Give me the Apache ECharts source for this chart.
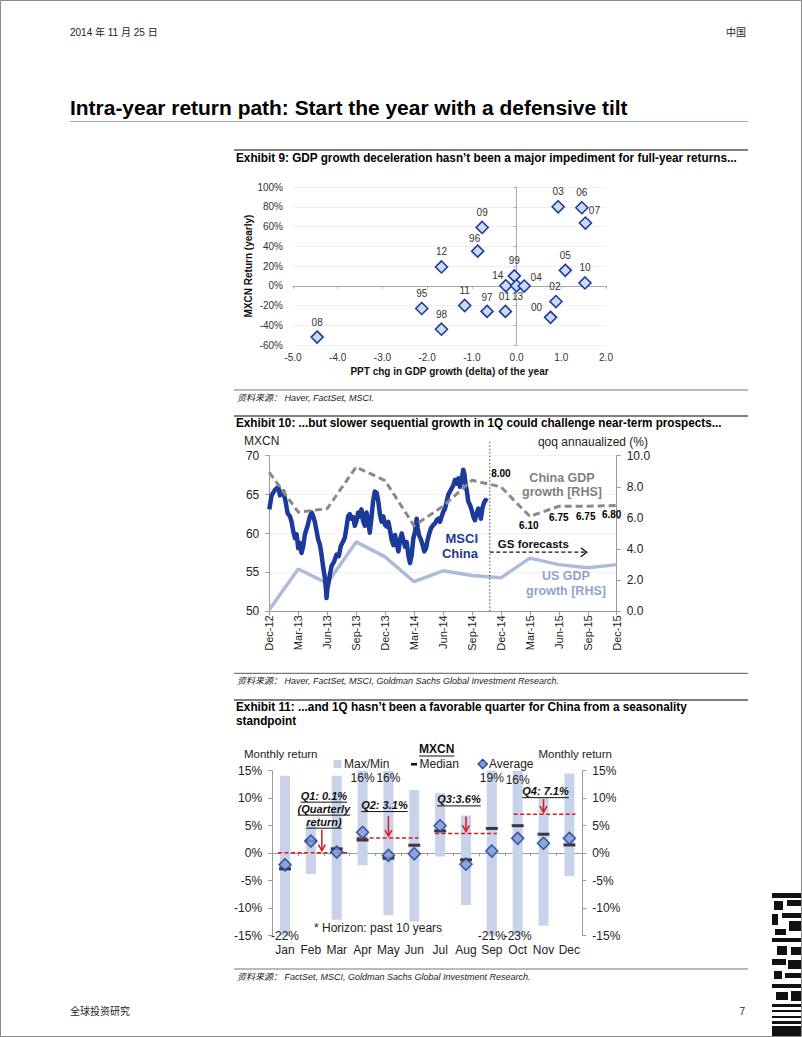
<!DOCTYPE html>
<html>
<head>
<meta charset="utf-8">
<title>Intra-year return path</title>
<script src="https://cdn.jsdelivr.net/npm/echarts@6.0.0/dist/echarts.min.js"></script>
<style>
html,body{margin:0;padding:0;background:#fff;}
#page{width:802px;height:1037px;}
</style>
</head>
<body>
<div id="page"></div>
<script>
// ================= DATA =================
// ---- Exhibit 9: yearly MXCN return vs change in GDP growth ----
const ex9Years  = ['08','95','98','12','11','96','09','97','01','14','99','13','04','03','06','07','05','10','02','00'];
const ex9GdpChg = [-4.46,-2.12,-1.68,-1.68,-1.16,-0.87,-0.77,-0.66,-0.25,-0.24,-0.05,0.0,0.17,0.93,1.46,1.54,1.09,1.53,0.88,0.76];
const ex9Return = [-52,-23,-44,19,-20,35,59,-26,-26,0,10,0,-0.3,80,79,63.5,15.6,2.8,-16,-32];

// ---- Exhibit 10: MSCI China index and GDP growth ----
const ex10Quarters = ['Dec-12','Mar-13','Jun-13','Sep-13','Dec-13','Mar-14','Jun-14','Sep-14','Dec-14','Mar-15','Jun-15','Sep-15','Dec-15'];
// months elapsed since Dec-12
const msciMonth = [0,0.24,0.59,0.93,1.10,1.45,1.69,1.90,2.14,2.31,2.48,2.66,2.83,3.0,3.17,3.34,3.52,3.69,3.97,4.21,4.38,4.55,4.72,4.90,5.07,5.24,5.41,5.59,5.76,5.86,5.93,6.03,6.17,6.28,6.45,6.72,6.97,7.21,7.41,7.66,7.83,8.0,8.17,8.34,8.52,8.69,8.86,9.03,9.21,9.38,9.55,9.72,9.90,10.07,10.24,10.41,10.59,10.76,10.93,
  11.13,11.30,11.47,11.64,11.82,11.99,12.17,12.34,12.51,12.68,12.86,13.03,13.20,13.38,13.55,13.72,13.89,14.06,14.24,14.41,14.58,14.75,14.93,15.10,15.27,15.37,15.51,15.72,15.89,16.06,16.24,16.41,16.58,16.76,17.0,17.17,17.34,17.52,17.69,17.86,18.03,18.21,18.38,18.55,18.72,18.90,19.07,19.24,19.41,19.59,19.76,19.93,20.10,20.21,20.35,20.48,20.62,20.79,20.97,21.14,21.31,21.49,21.66,21.83,21.93,22.07,22.24,22.41,22.59];
const msciValue = [63.1,64.9,65.6,66.0,64.9,65.4,64.1,62.6,62.2,61.5,60.3,59.4,59.9,58.1,58.8,57.5,58.4,59.9,61.0,62.2,62.7,62.2,61.5,60.3,59.2,58.6,57.3,55.6,54.3,53.0,51.7,53.0,53.9,54.7,55.8,56.4,57.3,57.1,58.4,59.0,59.5,60.8,62.2,62.5,61.9,62.1,61.0,61.6,62.7,62.2,63.1,61.6,61.0,62.7,61.6,60.1,62.1,64.2,65.4,
  65.2,64.1,62.4,61.5,62.2,61.1,60.9,61.5,60.4,59.2,58.5,59.8,58.7,57.7,59.2,60.0,59.2,58.3,58.9,57.2,56.2,57.2,59.4,60.2,61.9,60.8,59.8,59.2,58.5,57.7,58.1,59.2,60.0,60.7,61.1,61.3,61.7,61.9,61.5,62.2,62.8,63.2,64.1,65.0,65.4,65.8,66.2,66.9,66.4,67.1,66.0,66.9,68.2,67.7,66.2,65.4,64.1,63.7,63.0,62.2,61.7,62.6,63.2,62.6,61.9,63.2,63.9,64.3,64.1];
const chinaGdp = [8.93,6.37,6.6,9.27,8.4,5.5,6.75,8.42,8.0,6.1,6.75,6.75,6.8];
const usGdp    = [0.1,2.72,1.8,4.46,3.5,1.9,2.6,2.3,2.15,3.42,3.0,2.8,3.0];
const forecastStart = 22.85;   // report date (months after Dec-12)
const gsArrowEnd = 32.9;
const gsArrowLevel = 3.8;
const gsLabel = 'GS forecasts';

// ---- Exhibit 11: MXCN monthly return seasonality ----
const months     = ['Jan','Feb','Mar','Apr','May','Jun','Jul','Aug','Sep','Oct','Nov','Dec'];
const retMax     = [14.1,5.4,14.1,16,16,11.5,10.9,6.85,19,16,10.1,14.5];
const retMin     = [-22,-3.8,-12.1,-2.2,-11.3,-12.4,-0.6,-9.4,-21,-23,-13.2,-4.2];
const retMedian  = [-2.85,2.2,0.8,2.4,-0.9,1.45,4.05,-1.2,4.5,5.0,3.45,1.5];
const retAverage = [-2.1,2.2,0.2,3.8,-0.4,-0.1,5.0,-2.0,0.4,2.7,1.8,2.7];
const quarterNames  = ['Q1','Q2','Q3','Q4'];
const quarterReturn = [0.1,3.1,3.6,7.1];
const quarterLine   = [0.1,2.75,3.6,7.1];
const quarterNote   = ['(Quarterly','return)'];

// ================= HELPERS =================
const FF = '"Liberation Sans", Arial, "Noto Sans CJK SC", sans-serif';
const mctx = document.createElement('canvas').getContext('2d');
function tw(text, font){ mctx.font = font; return mctx.measureText(text).width; }
function T(x, y, text, font, fill, align, extra){
  return Object.assign({type:'text', x:x, y:y, z:100, silent:true,
    style:{text:text, font:font, fill:fill||'#000', align:align||'left', verticalAlign:'middle',
           textAlign:align||'left', textVerticalAlign:'middle'}}, extra||{});
}
function L(x1,y1,x2,y2,stroke,w){ return {type:'line', z:100, silent:true, shape:{x1:x1,y1:y1,x2:x2,y2:y2}, style:{stroke:stroke, lineWidth:w}}; }
function R(x,y,w,h,fill){ return {type:'rect', z:100, silent:true, shape:{x:x,y:y,width:w,height:h}, style:{fill:fill}}; }

const AX = '#9a9a9a';
const EX11_MIN = -15, EX11_MAX = 15;

// label placement (style)
const ex9LabelOffset = {'08':[0,-15],'95':[0,-15],'98':[0,-15],'12':[0,-15],'11':[0,-15],'96':[-3,-13],'09':[0,-15],'97':[0,-14],
  '01':[-1,-15],'13':[1,11],'14':[-8,-10],'99':[0,-15],'04':[12,-9],'03':[0,-15],'06':[0,-15],'07':[9,-13],'05':[0,-15],'10':[0,-15],'02':[-1,-15],'00':[-14,-10]};
const chinaLabelOffset = {8:[0,-13], 9:[-1,9], 10:[0,11], 11:[-2,10], 12:[-5,9]};
const qStyle = {ext:[[7,13],[6,4],[5,5],[4,6]], arrowDx:[11,0,0,0], arrowLen:[21,20,15,13], labelGap:[8,11,17,8], labelDx:[2,-4,-7,2]};
const topLabelDy = {9:9}, botLabelDy = {};

// ================= RENDERERS =================
function renderRange(params, api){
  const i = api.value(0), lo = api.value(1), hi = api.value(2);
  const top = api.coord([i, Math.min(hi, EX11_MAX)]);
  const bot = api.coord([i, Math.max(lo, EX11_MIN)]);
  const w = 10;
  const ch = [{type:'rect', shape:{x:top[0]-w/2, y:top[1], width:w, height:bot[1]-top[1]}, style:{fill:'#c8d3ea'}}];
  const f = '12px ' + FF;
  if (hi > EX11_MAX) ch.push({type:'text', x:top[0], y:top[1] + (topLabelDy[i] || 7),
      style:{text:Math.round(hi)+'%', font:f, fill:'#222', align:'center', verticalAlign:'middle'}});
  if (lo < EX11_MIN) ch.push({type:'text', x:bot[0], y:bot[1] + (botLabelDy[i] || 0.5),
      style:{text:Math.round(lo)+'%', font:f, fill:'#222', align:'center', verticalAlign:'middle'}});
  return {type:'group', children:ch};
}
function quarterText(q, r){
  const sep = q === 2 ? ':' : ': ';
  const first = quarterNames[q] + sep + r.toFixed(1) + '%';
  return q === 0 ? [first].concat(quarterNote) : [first];
}
function renderQuarter(params, api){
  const q = params.dataIndex;
  const s = api.value(0), e = api.value(1), v = api.value(2), r = api.value(3);
  const p0 = api.coord([s, v]), p1 = api.coord([e, v]), pm = api.coord([(s+e)/2, v]);
  const y = p0[1], red = '#e3141c';
  const ax = pm[0] + qStyle.arrowDx[q];
  const aBot = y - 2, aTop = aBot - qStyle.arrowLen[q];
  const ch = [
    {type:'line', shape:{x1:p0[0]-qStyle.ext[q][0], y1:y, x2:p1[0]+qStyle.ext[q][1], y2:y}, style:{stroke:red, lineWidth:1.5, lineDash:[4,2.5]}},
    {type:'line', shape:{x1:ax, y1:aTop, x2:ax, y2:aBot}, style:{stroke:red, lineWidth:1.5}},
    {type:'polyline', shape:{points:[[ax-3.5,aBot-6],[ax,aBot],[ax+3.5,aBot-6]]}, style:{stroke:red, lineWidth:1.5, fill:'none'}}
  ];
  const lines = quarterText(q, r);
  const font = 'italic bold 11px ' + FF;
  const cx = ax + qStyle.labelDx[q];
  const lastY = aTop - qStyle.labelGap[q];
  lines.forEach(function(t, k){
    const ty = lastY - (lines.length - 1 - k) * 13;
    const w = tw(t, font);
    ch.push({type:'text', x:cx, y:ty, style:{text:t, font:font, fill:'#111', align:'center', verticalAlign:'middle'}});
    ch.push({type:'line', shape:{x1:cx-w/2, y1:ty+6.5, x2:cx+w/2, y2:ty+6.5}, style:{stroke:'#111', lineWidth:1}});
  });
  return {type:'group', children:ch};
}
function renderForecast(params, api){
  const x0 = api.value(0), x1 = api.value(1), lv = api.value(2);
  const pb = api.coord([x0, 0]), pt = api.coord([x0, 10]);
  const a0 = api.coord([x0, lv]), a1 = api.coord([x1, lv]);
  return {type:'group', children:[
    {type:'line', shape:{x1:pb[0], y1:pb[1], x2:pb[0], y2:pt[1]-16}, style:{stroke:'#444', lineWidth:1, lineDash:[1.5,2]}},
    {type:'line', shape:{x1:a0[0], y1:a0[1], x2:a1[0], y2:a1[1]}, style:{stroke:'#111', lineWidth:1.3, lineDash:[4,2.5]}},
    {type:'polyline', shape:{points:[[a1[0]-6,a1[1]-4.5],[a1[0],a1[1]],[a1[0]-6,a1[1]+4.5]]}, style:{stroke:'#111', lineWidth:1.3, fill:'none'}},
    {type:'text', x:(a0[0]+a1[0])/2 - 5, y:a0[1]-8, style:{text:gsLabel, font:'bold 11.5px '+FF, fill:'#111', align:'center', verticalAlign:'middle'}}
  ]};
}

// ================= PAGE TEXT (graphic) =================
const CJKF = '"Liberation Sans", "Noto Sans CJK SC", sans-serif';
const title = 'Intra-year return path: Start the year with a defensive tilt';
const titleFont = 'bold 21px ' + FF;
const ex9Title  = 'Exhibit 9: GDP growth deceleration hasn’t been a major impediment for full-year returns...';
const ex10Title = 'Exhibit 10: ...but slower sequential growth in 1Q could challenge near-term prospects...';
const ex11Title1 = 'Exhibit 11: ...and 1Q hasn’t been a favorable quarter for China from a seasonality';
const ex11Title2 = 'standpoint';
const exFont = 'bold 12px ' + FF;
const srcFont = 'italic 9px ' + CJKF;
const s9 = 501 / tw(ex9Title, exFont), s10 = 486 / tw(ex10Title, exFont), s11 = 451 / tw(ex11Title1, exFont);

const g = [];
g.push({type:'rect', z:100, silent:true, shape:{x:0.5,y:0.5,width:801,height:1036}, style:{fill:'none', stroke:'#8a8a8a', lineWidth:1}});
g.push(T(70, 32, '2014 年 11 月 25 日', '10px ' + CJKF, '#222'));
g.push(T(746, 32, '中国', '10px ' + CJKF, '#222', 'right'));
g.push(T(70, 107, title, titleFont, '#000', 'left', {scaleX: 558 / tw(title, titleFont)}));
g.push(L(70, 121.5, 748, 121.5, '#9aabc6', 1.2));
// Exhibit 9 frame
g.push(L(234, 150, 748, 150, '#555', 1.5));
g.push(T(236, 157.5, ex9Title, exFont, '#000', 'left', {scaleX: s9}));
g.push(L(234, 390, 748, 390, '#777', 1.2));
g.push(T(237, 398, '资料来源： Haver, FactSet, MSCI.', srcFont, '#222'));
// Exhibit 10 frame & annotations
g.push(L(234, 416, 748, 416, '#555', 1.5));
g.push(T(236, 423.3, ex10Title, exFont, '#000', 'left', {scaleX: s10}));
g.push(T(244, 441, 'MXCN', '12px ' + FF, '#222'));
g.push(T(648, 441.5, 'qoq annaualized (%)', '12px ' + FF, '#222', 'right'));
g.push(T(478, 538, 'MSCI', 'bold 13px ' + FF, '#1b3a9a', 'right'));
g.push(T(478, 553, 'China', 'bold 13px ' + FF, '#1b3a9a', 'right'));
g.push(T(562, 478, 'China GDP', 'bold 12.5px ' + FF, '#7f7f7f', 'center'));
g.push(T(562, 492, 'growth [RHS]', 'bold 12.5px ' + FF, '#7f7f7f', 'center'));
g.push(T(566, 576, 'US GDP', 'bold 12.5px ' + FF, '#8fa2cf', 'center'));
g.push(T(566, 591, 'growth [RHS]', 'bold 12.5px ' + FF, '#8fa2cf', 'center'));
g.push(L(234, 673.3, 748, 673.3, '#777', 1.2));
g.push(T(237, 680.7, '资料来源： Haver, FactSet, MSCI, Goldman Sachs Global Investment Research.', srcFont, '#222'));
// Exhibit 11 frame & legend
g.push(L(234, 700, 748, 700, '#555', 1.5));
g.push(T(236, 706.7, ex11Title1, exFont, '#000', 'left', {scaleX: s11}));
g.push(T(236, 720.5, ex11Title2, exFont, '#000', 'left', {scaleX: s11}));
g.push(T(244, 754, 'Monthly return', '11.5px ' + FF, '#222'));
g.push(T(612, 754, 'Monthly return', '11.5px ' + FF, '#222', 'right'));
const mxFont = 'bold 12px ' + FF, mxW = tw('MXCN', mxFont);
g.push(T(436.7, 749, 'MXCN', mxFont, '#111', 'center'));
g.push(L(436.7 - mxW/2, 756, 436.7 + mxW/2, 756, '#111', 1));
g.push(R(333.5, 760, 8, 8, '#c8d3ea'));
g.push(T(344, 764, 'Max/Min', '12px ' + FF, '#222'));
g.push(R(411, 763, 6, 2.5, '#111'));
g.push(T(419.5, 764, 'Median', '12px ' + FF, '#222'));
g.push({type:'polygon', z:100, silent:true, shape:{points:[[482.7,759.3],[487.4,764],[482.7,768.7],[478,764]]}, style:{fill:'#7d9bd8', stroke:'#1f3c96', lineWidth:1.2}});
g.push(T(489, 764, 'Average', '12px ' + FF, '#222'));
g.push(T(314, 928.3, '* Horizon: past 10 years', '12px ' + FF, '#222'));
g.push(L(234, 969, 748, 969, '#777', 1.2));
g.push(T(237, 976.7, '资料来源： FactSet, MSCI, Goldman Sachs Global Investment Research.', srcFont, '#222'));
// footer
g.push(T(70, 1011, '全球投资研究', '10px ' + CJKF, '#222'));
g.push(T(745, 1011, '7', '10px ' + FF, '#222', 'right'));
// corner code mark
[[772,893,29,5],[774,901,9,9],[787,900,14,6],[772,914,6,11],[782,913,19,5],[789,921,12,10],[775,929,11,6],[772,938,29,4],
 [777,946,10,9],[791,947,10,8],[772,959,14,6],[788,960,13,9],[774,971,8,8],[785,973,16,5],[772,984,29,4],[776,992,12,8],
 [791,991,10,10],[772,1004,29,3],[772,1010,29,2],[772,1016,29,2],[772,1021,29,3],[772,1026,29,10]].forEach(function(b){ g.push(R(b[0],b[1],b[2],b[3],'#111')); });

// ================= CHART =================
const chart = echarts.init(document.getElementById('page'), null, {renderer:'svg', width:802, height:1037});
const option = {
  animation: false,
  textStyle: {fontFamily: FF},
  grid: [
    {left:293, top:187, width:313, height:158, outerBoundsMode:'none', containLabel:false},
    {left:269.3, top:455.7, width:347.4, height:155.6, outerBoundsMode:'none', containLabel:false},
    {left:272.1, top:770.7, width:310.2, height:165, outerBoundsMode:'none', containLabel:false}
  ],
  xAxis: [
    {gridIndex:0, type:'value', min:-5, max:2, interval:1, position:'bottom',
     axisLine:{show:false, onZero:false}, axisTick:{show:false}, splitLine:{show:false},
     axisLabel:{formatter:function(v){return v.toFixed(1);}, fontSize:10, color:'#333', margin:7},
     name:'PPT chg in GDP growth (delta) of the year', nameLocation:'middle', nameGap:21,
     nameTextStyle:{fontWeight:'bold', fontSize:10, color:'#111'}},
    {gridIndex:0, type:'value', min:-5, max:2, interval:1, position:'bottom',
     axisLine:{show:true, onZero:true, lineStyle:{color:'#aaa', width:1}},
     axisTick:{show:true, length:3, lineStyle:{color:'#aaa'}}, axisLabel:{show:false}, splitLine:{show:false}},
    {gridIndex:1, type:'value', min:0, max:36, interval:3, position:'bottom',
     axisLine:{show:true, onZero:false, lineStyle:{color:AX}}, axisTick:{show:true, length:4, lineStyle:{color:AX}},
     axisLabel:{rotate:90, fontSize:11, color:'#222', margin:4, formatter:function(v){return ex10Quarters[Math.round(v/3)];}},
     splitLine:{show:false}},
    {gridIndex:2, type:'category', data:months, position:'bottom',
     axisLine:{show:false, onZero:false}, axisTick:{show:false},
     axisLabel:{interval:0, fontSize:12, color:'#222', margin:8.5}, splitLine:{show:false}},
    {gridIndex:2, type:'category', data:months, position:'bottom',
     axisLine:{show:true, onZero:true, lineStyle:{color:AX}}, axisTick:{show:true, interval:0, length:3, lineStyle:{color:AX}},
     axisLabel:{show:false}, splitLine:{show:false}}
  ],
  yAxis: [
    {gridIndex:0, type:'value', min:-60, max:100, interval:20, position:'left',
     axisLine:{show:false, onZero:false}, axisTick:{show:false}, splitLine:{show:true, lineStyle:{color:'#efefef'}},
     axisLabel:{formatter:'{value}%', fontSize:10, color:'#333', margin:10},
     name:'MXCN Return (yearly)', nameLocation:'middle', nameGap:40,
     nameTextStyle:{fontWeight:'bold', fontSize:10, color:'#111'}},
    {gridIndex:0, type:'value', min:-60, max:100, interval:20, position:'left',
     axisLine:{show:true, onZero:true, lineStyle:{color:'#aaa', width:1}},
     axisTick:{show:true, length:3, lineStyle:{color:'#aaa'}}, axisLabel:{show:false}, splitLine:{show:false}},
    {gridIndex:1, type:'value', min:50, max:70, interval:5, position:'left',
     axisLine:{show:true, lineStyle:{color:AX}}, axisTick:{show:true, length:4, lineStyle:{color:AX}},
     splitLine:{show:true, lineStyle:{color:'#f1f1f1'}}, axisLabel:{fontSize:12, color:'#222', margin:10}},
    {gridIndex:1, type:'value', min:0, max:10, interval:2, position:'right',
     axisLine:{show:true, lineStyle:{color:AX}}, axisTick:{show:true, length:4, lineStyle:{color:AX}},
     splitLine:{show:false}, axisLabel:{fontSize:12, color:'#222', margin:10, formatter:function(v){return v.toFixed(1);}}},
    {gridIndex:2, type:'value', min:EX11_MIN, max:EX11_MAX, interval:5, position:'left',
     axisLine:{show:true, lineStyle:{color:AX}}, axisTick:{show:true, length:4, lineStyle:{color:AX}},
     splitLine:{show:false}, axisLabel:{fontSize:12, color:'#222', margin:10, formatter:'{value}%'}},
    {gridIndex:2, type:'value', min:EX11_MIN, max:EX11_MAX, interval:5, position:'right',
     axisLine:{show:true, lineStyle:{color:AX}}, axisTick:{show:true, length:4, lineStyle:{color:AX}},
     splitLine:{show:false}, axisLabel:{fontSize:12, color:'#222', margin:10, formatter:'{value}%'}}
  ],
  series: [
    {type:'scatter', name:'MXCN yearly return', xAxisIndex:0, yAxisIndex:0, symbol:'diamond', symbolSize:12, z:3,
     itemStyle:{color:'#cbdaf5', borderColor:'#1f3c96', borderWidth:1.6, opacity:1},
     label:{show:true, position:'inside', formatter:'{b}', fontSize:10, color:'#333'},
     data: ex9Years.map(function(yr, i){ return {name:yr, value:[ex9GdpChg[i], ex9Return[i]], label:{offset:ex9LabelOffset[yr]}}; })},
    {type:'line', name:'US GDP growth', xAxisIndex:2, yAxisIndex:3, symbol:'none', z:2,
     lineStyle:{color:'#adbbdb', width:3.5},
     data: usGdp.map(function(v, i){ return [i*3, v]; })},
    {type:'line', name:'MSCI China', xAxisIndex:2, yAxisIndex:2, symbol:'none', z:3,
     lineStyle:{color:'#1b3a9a', width:4.5, join:'round'},
     data: msciMonth.map(function(m, i){ return [m, msciValue[i]]; })},
    {type:'line', name:'China GDP growth', xAxisIndex:2, yAxisIndex:3, symbol:'circle', symbolSize:1, showSymbol:true, z:4,
     itemStyle:{color:'#8a8a8a'}, lineStyle:{color:'#8a8a8a', width:3, type:[7,4]},
     label:{show:false, position:'inside', fontWeight:'bold', fontSize:10, color:'#000',
            formatter:function(p){ return p.value[1].toFixed(2); }},
     data: chinaGdp.map(function(v, i){
       const fc = i*3 > forecastStart;
       return {value:[i*3, v], label: fc ? {show:true, offset:chinaLabelOffset[i]} : {show:false}};
     })},
    {type:'custom', name:'forecast marker', xAxisIndex:2, yAxisIndex:3, z:5, silent:true,
     encode:{x:[0,1], y:2}, renderItem:renderForecast, data:[[forecastStart, gsArrowEnd, gsArrowLevel]]},
    {type:'custom', name:'Max/Min', xAxisIndex:3, yAxisIndex:4, z:2, silent:true,
     encode:{x:0, y:[1,2]}, renderItem:renderRange,
     data: months.map(function(m, i){ return [i, retMin[i], retMax[i]]; })},
    {type:'custom', name:'Quarterly return', xAxisIndex:3, yAxisIndex:4, z:3, silent:true,
     encode:{x:[0,1], y:2}, renderItem:renderQuarter,
     data: quarterNames.map(function(q, i){ return [i*3, i*3+2, quarterLine[i], quarterReturn[i]]; })},
    {type:'scatter', name:'Median', xAxisIndex:3, yAxisIndex:4, z:4, symbol:'rect', symbolSize:[12,3],
     itemStyle:{color:'#111'}, data: retMedian},
    {type:'scatter', name:'Average', xAxisIndex:3, yAxisIndex:4, z:5, symbol:'diamond', symbolSize:12,
     itemStyle:{color:'#7d9bd8', borderColor:'#1f3c96', borderWidth:1.6}, data: retAverage}
  ],
  graphic: {elements: g}
};
chart.setOption(option);
</script>
</body>
</html>
